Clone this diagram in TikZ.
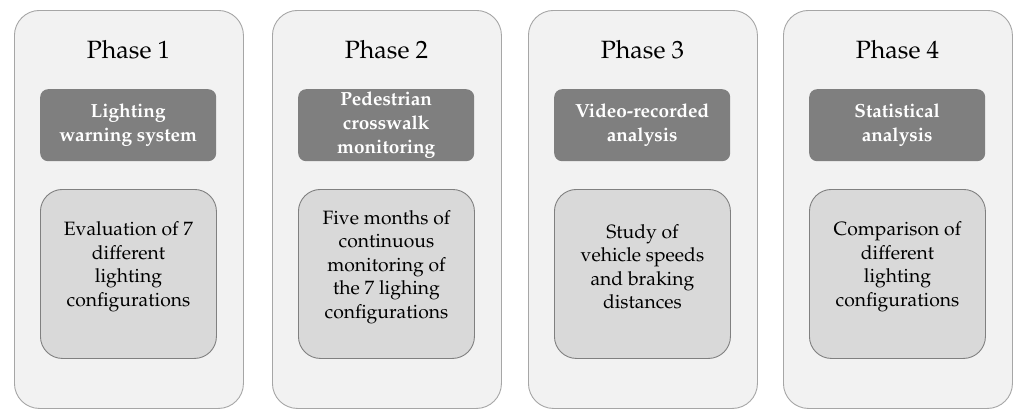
\documentclass[tikz,border=0pt]{standalone}
\usepackage[T1]{fontenc}
\usepackage{mathpazo}
\definecolor{outerfill}{HTML}{F2F2F2}
\definecolor{outerline}{HTML}{A6A6A6}
\definecolor{headfill}{HTML}{7F7F7F}
\definecolor{bodyfill}{HTML}{D9D9D9}
\definecolor{bodyline}{HTML}{808080}
\begin{document}
\begin{tikzpicture}[x=1pt,y=-1pt,
  outer/.style={draw=outerline, fill=outerfill, rounded corners=25pt, line width=0.9pt,
    minimum width=229pt, minimum height=398pt, anchor=north west, inner sep=0pt},
  head/.style={fill=headfill, rounded corners=8pt,
    minimum width=176pt, minimum height=72pt, anchor=north west, inner sep=0pt},
  body/.style={draw=bodyline, fill=bodyfill, rounded corners=22pt, line width=0.9pt,
    minimum width=176pt, minimum height=169pt, anchor=north west, inner sep=0pt},
  phasetitle/.style={font=\fontsize{25}{30}\selectfont, text=black, inner sep=0pt},
  headtext/.style={font=\fontsize{19}{24}\selectfont\bfseries, text=white, align=center, inner sep=0pt},
  bodytext/.style={font=\fontsize{19.3}{23.5}\selectfont, text=black, align=center, inner sep=0pt}]
\useasboundingbox (0,0) rectangle (1013,410);
\foreach \i/\x in {1/14,2/272,3/528,4/783}{
  \node[outer] (p\i) at (\x,10) {};
  \node[head] (h\i) at (\x+26,89) {};
  \node[body] (b\i) at (\x+26,189) {};
  \node[phasetitle] (t\i) at (\x+114.5,50) {Phase \i};
}
\node[headtext] (ht1) at (h1.center) {Lighting\\warning system};
\node[headtext] (ht2) at (h2.center) {Pedestrian\\crosswalk\\monitoring};
\node[headtext] (ht3) at (h3.center) {Video-recorded\\analysis};
\node[headtext] (ht4) at (h4.center) {Statistical\\analysis};
\node[bodytext] (bt1) at ([yshift=7pt]b1.center) {Evaluation of 7\\different\\lighting\\configurations};
\node[bodytext] (bt2) at ([yshift=7pt]b2.center) {Five months of\\continuous\\monitoring of\\the 7 lighing\\configurations};
\node[bodytext] (bt3) at ([yshift=7pt]b3.center) {Study of\\vehicle speeds\\and braking\\distances};
\node[bodytext] (bt4) at ([yshift=7pt]b4.center) {Comparison of\\different\\lighting\\configurations};
\end{tikzpicture}
\end{document}
